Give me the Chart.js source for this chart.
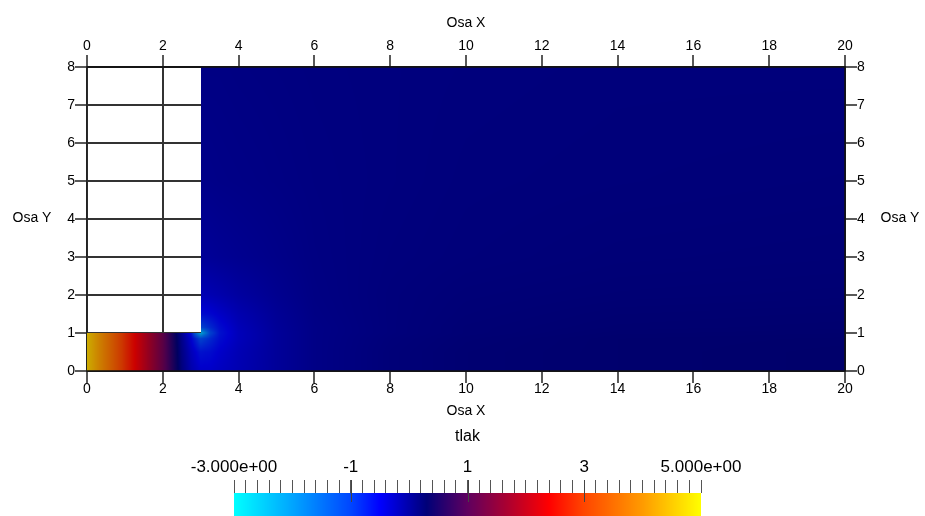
<!DOCTYPE html>
<html><head><meta charset="utf-8">
<script src="https://cdn.jsdelivr.net/npm/chart.js@4.4.1/dist/chart.umd.min.js"></script>
<style>
html,body{margin:0;padding:0;background:#fff;width:925px;height:516px;overflow:hidden;}
#main{position:absolute;left:0;top:0;}
#cbar{position:absolute;left:0;top:420px;}
</style></head><body>
<canvas id="main" width="925" height="516"></canvas>
<canvas id="cbar" width="925" height="96"></canvas>
<script>
// ---------------- data ----------------
const xTickValues = [0, 2, 4, 6, 8, 10, 12, 14, 16, 18, 20];
const yTickValues = [0, 1, 2, 3, 4, 5, 6, 7, 8];
const cbLabelValues = [-3, -1, 1, 3, 5];
const cbLabels = ['-3.000e+00', '-1', '1', '3', '5.000e+00'];
const cbRange = [-3, 5];

// node coordinates of the pressure field "tlak"
const xNodes = [0, 0.5, 1, 1.5, 2, 2.5, 2.75, 3, 3.25, 3.5, 4, 5, 6, 8, 10, 14, 20];
const yNodes = [0, 0.5, 0.85, 1, 1.15, 1.5, 2, 3, 5, 8];
// pressure values, one row per yNode (null = outside the domain)
const N = null;
const tlakY0    = [4.6, 3.75, 2.85, 2.0, 1.15, 0.1, -0.25, -0.45, -0.45, -0.4, -0.3, -0.12, 0.02, 0.12, 0.17, 0.2, 0.22];
const tlakY05   = [4.6, 3.75, 2.85, 2.0, 1.15, 0.05, -0.35, -0.65, -0.6, -0.48, -0.32, -0.12, 0.02, 0.12, 0.17, 0.2, 0.22];
const tlakY085  = [4.6, 3.75, 2.85, 2.0, 1.15, 0.0, -0.5, -1.1, -0.85, -0.6, -0.36, -0.12, 0.02, 0.11, 0.16, 0.2, 0.21];
const tlakY1    = [4.6, 3.75, 2.85, 2.0, 1.15, -0.05, -0.65, -2.4, -1.1, -0.65, -0.36, -0.12, 0.02, 0.1, 0.15, 0.19, 0.2];
const tlakY115  = [N, N, N, N, N, N, N, -1.1, -0.85, -0.6, -0.34, -0.11, 0.02, 0.1, 0.15, 0.18, 0.19];
const tlakY15   = [N, N, N, N, N, N, N, -0.6, -0.55, -0.45, -0.28, -0.09, 0.03, 0.1, 0.14, 0.17, 0.18];
const tlakY2    = [N, N, N, N, N, N, N, -0.32, -0.3, -0.26, -0.17, -0.05, 0.04, 0.1, 0.13, 0.15, 0.16];
const tlakY3    = [N, N, N, N, N, N, N, -0.1, -0.1, -0.08, -0.05, 0.0, 0.05, 0.09, 0.11, 0.13, 0.14];
const tlakY5    = [N, N, N, N, N, N, N, 0.0, 0.0, 0.01, 0.02, 0.04, 0.06, 0.08, 0.1, 0.11, 0.12];
const tlakY8    = [N, N, N, N, N, N, N, 0.04, 0.04, 0.04, 0.05, 0.06, 0.07, 0.08, 0.09, 0.1, 0.1];
const tlak = [tlakY0, tlakY05, tlakY085, tlakY1, tlakY115, tlakY15, tlakY2, tlakY3, tlakY5, tlakY8];

// ---------------- style ----------------
const FONT = 'Liberation Sans';
const SHADE = 0.8;
const cmapStops = [
  [-3, 0, 255, 255], [-2, 0, 165, 255], [-1, 0, 70, 255], [-0.5, 0, 0, 255],
  [0.3, 0, 0, 120], [1, 95, 0, 95], [1.8, 185, 0, 40], [2.4, 255, 0, 0],
  [3, 255, 70, 0], [4, 255, 155, 0], [5, 255, 255, 0]
];
function colormap(v) {
  if (v <= cmapStops[0][0]) return cmapStops[0].slice(1);
  for (let i = 0; i < cmapStops.length - 1; i++) {
    const a = cmapStops[i], b = cmapStops[i + 1];
    if (v <= b[0]) {
      const t = (v - a[0]) / (b[0] - a[0]);
      return [a[1] + (b[1] - a[1]) * t, a[2] + (b[2] - a[2]) * t, a[3] + (b[3] - a[3]) * t];
    }
  }
  return cmapStops[cmapStops.length - 1].slice(1);
}
function findCell(arr, v) {
  if (v < arr[0] || v > arr[arr.length - 1]) return -1;
  for (let i = 0; i < arr.length - 1; i++) if (v <= arr[i + 1]) return i;
  return arr.length - 2;
}

const fieldPlugin = {
  id: 'field',
  beforeDatasetsDraw(chart) {
    const {ctx, chartArea: a, scales: {x, y}} = chart;
    const w = Math.round(a.right - a.left), h = Math.round(a.bottom - a.top);
    const off = document.createElement('canvas');
    off.width = w; off.height = h;
    const octx = off.getContext('2d');
    const img = octx.createImageData(w, h);
    for (let j = 0; j < h; j++) {
      const yv = y.getValueForPixel(a.top + j + 0.5);
      const cj = findCell(yNodes, yv);
      if (cj < 0) continue;
      for (let i = 0; i < w; i++) {
        const xv = x.getValueForPixel(a.left + i + 0.5);
        const ci = findCell(xNodes, xv);
        if (ci < 0) continue;
        const v00 = tlak[cj][ci], v10 = tlak[cj][ci + 1], v01 = tlak[cj + 1][ci], v11 = tlak[cj + 1][ci + 1];
        if (v00 === null || v10 === null || v01 === null || v11 === null) continue;
        const tx = (xv - xNodes[ci]) / (xNodes[ci + 1] - xNodes[ci]);
        const ty = (yv - yNodes[cj]) / (yNodes[cj + 1] - yNodes[cj]);
        const v = v00 * (1 - tx) * (1 - ty) + v10 * tx * (1 - ty) + v01 * (1 - tx) * ty + v11 * tx * ty;
        const c = colormap(v);
        const k = (j * w + i) * 4;
        img.data[k] = c[0] * SHADE; img.data[k + 1] = c[1] * SHADE; img.data[k + 2] = c[2] * SHADE; img.data[k + 3] = 255;
      }
    }
    octx.putImageData(img, 0, 0);
    ctx.drawImage(off, a.left, a.top);
  },
  afterDatasetsDraw(chart) {
    const {ctx, chartArea: a} = chart;
    ctx.save();
    ctx.strokeStyle = '#111'; ctx.lineWidth = 1.5;
    ctx.beginPath();
    ctx.moveTo(a.left, a.top); ctx.lineTo(a.right, a.top);
    ctx.lineTo(a.right, a.bottom); ctx.lineTo(a.left, a.bottom);
    ctx.stroke();
    ctx.restore();
  },
  afterDraw(chart) {
    const {ctx, scales: {y}} = chart;
    ctx.save();
    ctx.font = '14px "' + FONT + '"';
    ctx.fillStyle = '#000';
    ctx.textAlign = 'center';
    ctx.textBaseline = 'middle';
    const yc = y.getPixelForValue(4) - 1;
    ctx.fillText('Osa Y', 32, yc);
    ctx.fillText('Osa Y', 900, yc);
    ctx.restore();
  }
};

const tickFont = {family: FONT, size: 14};
const lineCol = '#222';
function xAxis(pos, h, pad, titlePad, gridOn) {
  return {
    type: 'linear', position: pos, min: 0, max: 20,
    afterBuildTicks: s => { s.ticks = xTickValues.map(v => ({value: v})); },
    afterFit: s => { s.height = h; },
    ticks: {autoSkip: false, maxRotation: 0, padding: pad, color: '#000', font: tickFont},
    grid: {display: true, drawOnChartArea: gridOn, drawTicks: true, tickLength: 12, color: '#333', lineWidth: 2, tickColor: lineCol, tickWidth: 1.5},
    border: {display: true, color: lineCol, width: 1.5},
    title: {display: true, text: 'Osa X', color: '#000', font: {family: FONT, size: 14}, padding: titlePad}
  };
}
function yAxis(pos, w, gridOn) {
  return {
    type: 'linear', position: pos, min: 0, max: 8,
    afterBuildTicks: s => { s.ticks = yTickValues.map(v => ({value: v})); },
    afterFit: s => { s.width = w; },
    ticks: {autoSkip: false, padding: 0, color: '#000', font: tickFont},
    grid: {display: true, drawOnChartArea: gridOn, drawTicks: true, tickLength: 12, color: '#333', lineWidth: 2, tickColor: lineCol, tickWidth: 1.5},
    border: {display: true, color: lineCol, width: 1.5}
  };
}

new Chart(document.getElementById('main'), {
  type: 'scatter',
  data: {datasets: [{data: [], xAxisID: 'x', yAxisID: 'y'}]},
  options: {
    responsive: false, animation: false, events: [],
    layout: {padding: {left: 0, right: 0, top: 0, bottom: 92}, autoPadding: false},
    plugins: {legend: {display: false}, tooltip: {enabled: false}},
    scales: {
      x: xAxis('bottom', 53, -2, {top: 0, bottom: 4}, true),
      xTop: xAxis('top', 67, 0, {top: 15, bottom: 0}, false),
      y: yAxis('left', 87, true),
      yRight: yAxis('right', 80, false)
    }
  },
  plugins: [fieldPlugin]
});

// ---------------- colour bar ----------------
const cbMinorStep = 0.2;
const cbTickValues = [];
for (let k = 0; k <= Math.round((cbRange[1] - cbRange[0]) / cbMinorStep); k++) {
  cbTickValues.push(Math.round((cbRange[0] + k * cbMinorStep) * 10) / 10);
}
const cbPlugin = {
  id: 'cbar',
  beforeDatasetsDraw(chart) {
    const {ctx, chartArea: a, scales: {x}} = chart;
    for (let px = Math.round(a.left); px < Math.round(a.right); px++) {
      const c = colormap(x.getValueForPixel(px + 0.5));
      ctx.fillStyle = 'rgb(' + Math.round(c[0]) + ',' + Math.round(c[1]) + ',' + Math.round(c[2]) + ')';
      ctx.fillRect(px, a.top, 1, a.bottom - a.top);
    }
  },
  afterDraw(chart) {
    const {ctx, chartArea: a, scales: {x}} = chart;
    ctx.save();
    ctx.strokeStyle = '#444'; ctx.lineWidth = 1;
    cbLabelValues.slice(1, -1).forEach(v => {
      const px = Math.round(x.getPixelForValue(v)) + 0.5;
      ctx.beginPath(); ctx.moveTo(px, a.top - 13); ctx.lineTo(px, a.top + 9); ctx.stroke();
    });
    ctx.restore();
  }
};
new Chart(document.getElementById('cbar'), {
  type: 'scatter',
  data: {datasets: [{data: []}]},
  options: {
    responsive: false, animation: false, events: [],
    layout: {padding: {left: 234, right: 224, top: 0, bottom: 0}, autoPadding: false},
    plugins: {legend: {display: false}, tooltip: {enabled: false}},
    scales: {
      x: {
        type: 'linear', position: 'top', min: cbRange[0], max: cbRange[1],
        afterBuildTicks: s => { s.ticks = cbTickValues.map(v => ({value: v})); },
        afterFit: s => { s.height = 73; },
        ticks: {
          autoSkip: false, maxRotation: 0, padding: 2, color: '#000', font: {family: FONT, size: 17},
          callback: (v) => {
            const i = cbLabelValues.findIndex(t => Math.abs(t - v) < 1e-6);
            return i >= 0 ? cbLabels[i] : '';
          }
        },
        grid: {display: true, drawOnChartArea: false, drawTicks: true, tickLength: 13, tickColor: '#555', tickWidth: 1},
        border: {display: false},
        title: {display: true, text: 'tlak', color: '#000', font: {family: FONT, size: 16}, padding: {top: 7, bottom: 0}}
      },
      y: {display: false, min: 0, max: 1}
    }
  },
  plugins: [cbPlugin]
});
</script>
</body></html>
